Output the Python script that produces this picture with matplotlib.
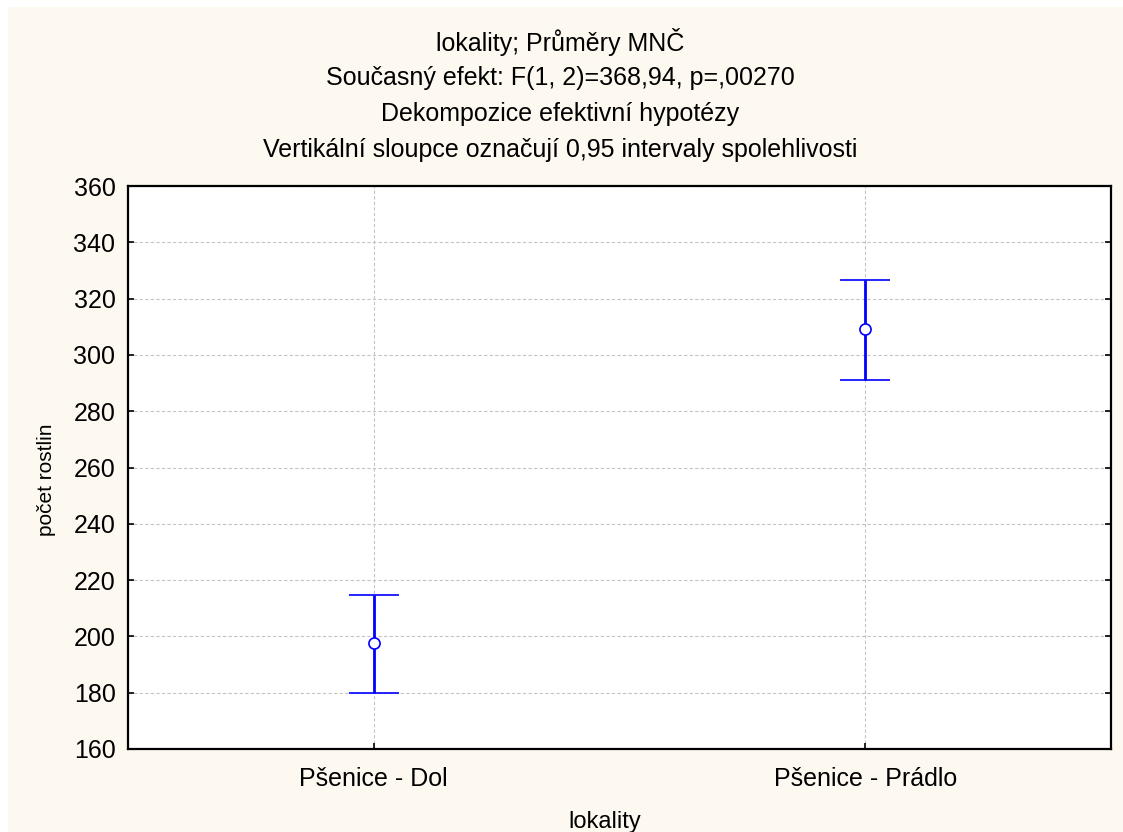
import matplotlib
matplotlib.use("Agg")
import matplotlib.pyplot as plt
from matplotlib.patches import Rectangle

categories = ["Pšenice - Dol", "Pšenice - Prádlo"]
means = [197.5, 309.2]
ci_low = [179.8, 291.1]
ci_high = [214.8, 326.7]

title_lines = [
    "lokality; Průměry MNČ",
    "Současný efekt: F(1, 2)=368,94, p=,00270",
    "Dekompozice efektivní hypotézy",
    "Vertikální sloupce označují 0,95 intervaly spolehlivosti",
]
yticks = [160, 180, 200, 220, 240, 260, 280, 300, 320, 340, 360]

plt.rcParams["font.family"] = ["Liberation Sans", "DejaVu Sans"]

W, H = 1123, 832
fig = plt.figure(figsize=(W / 100, H / 100), dpi=100, facecolor="white")
fig.patches.append(Rectangle((8 / W, 0), 1, 1 - 7 / H, transform=fig.transFigure,
                             facecolor="#fdf9f0", edgecolor="none", zorder=-10))

ax = fig.add_axes([128 / W, 1 - 749 / H, (1111 - 128) / W, (749 - 186) / H])
ax.set_facecolor("white")

x = list(range(len(categories)))
lower = [m - l for m, l in zip(means, ci_low)]
upper = [h - m for m, h in zip(means, ci_high)]
ax.errorbar(x, means, yerr=[lower, upper], fmt="o", color="#0000ff",
            ecolor="#0000ff", elinewidth=2, capsize=18, capthick=2,
            markersize=8, markerfacecolor="white", markeredgecolor="#0000ff",
            markeredgewidth=1.2, zorder=3)

ax.set_xlim(-0.5, 1.5)
ax.set_ylim(160, 360)
ax.set_xticks(x)
ax.set_xticklabels(categories)
ax.set_yticks(yticks)
ax.tick_params(axis="both", direction="in", length=4, width=1.2, labelsize=18,
               colors="black", right=True)
ax.tick_params(axis="x", pad=13)
ax.tick_params(axis="y", pad=9)
ax.grid(True, color="#c4c4c4", linestyle=(0, (3, 2)), linewidth=0.8)
ax.set_axisbelow(True)
for s in ax.spines.values():
    s.set_linewidth(1.6)
    s.set_color("black")

ax.set_ylabel("počet rostlin", fontsize=15, va="center")
ax.yaxis.set_label_coords((47 - 128) / (1111 - 128), (749 - 480) / (749 - 186))
fig.text(605 / W, 1 - 822 / H, "lokality", ha="center", va="center", fontsize=17)

for i, line in enumerate(title_lines):
    fig.text(560 / W, 1 - (42 + 36 * i) / H, line, ha="center", va="center",
             fontsize=18)

fig.savefig("out.png", dpi=100, facecolor=fig.get_facecolor())
